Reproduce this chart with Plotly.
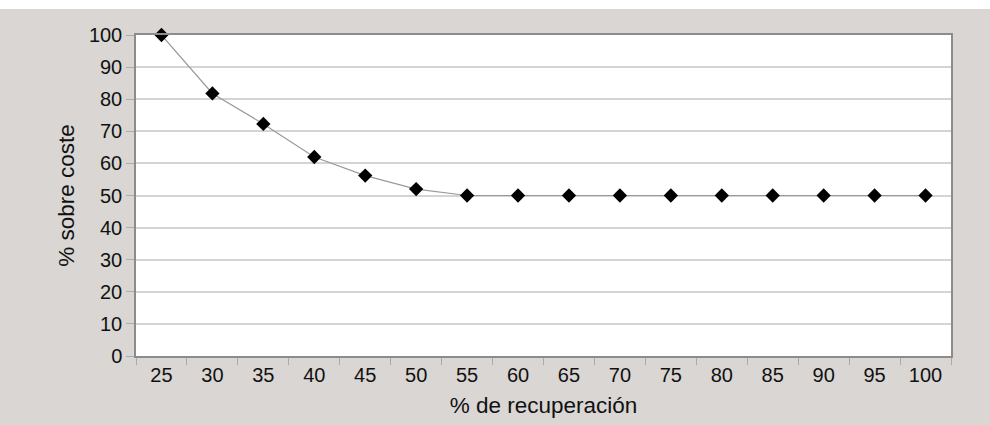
import plotly.graph_objects as go

recuperacion = ["25", "30", "35", "40", "45", "50", "55", "60", "65", "70", "75", "80", "85", "90", "95", "100"]
sobre_coste = [100, 81.8, 72.3, 62, 56.2, 52, 50, 50, 50, 50, 50, 50, 50, 50, 50, 50]
y_ticks = [0, 10, 20, 30, 40, 50, 60, 70, 80, 90, 100]

FONT = "Liberation Sans, Arial, sans-serif"
GRAY_BG = "#d9d6d3"
AXIS = "#8c8c8c"

fig = go.Figure()
fig.add_trace(go.Scatter(
    x=recuperacion, y=sobre_coste, mode="lines+markers",
    line=dict(color="#9a9a9a", width=1.2),
    marker=dict(symbol="diamond", size=11, color="black"),
    cliponaxis=False, showlegend=False,
))

W, H = 990, 425
ml, mr, mt, mb = 136, 39, 35, 69
pw, ph = W - ml - mr, H - mt - mb

def px(x):
    return (x - ml) / pw

def py(y):
    return (H - mb - y) / ph

shapes = [
    dict(type="rect", xref="paper", yref="paper", layer="below",
         x0=px(-5), x1=px(W + 5), y0=py(H + 5), y1=py(9),
         fillcolor=GRAY_BG, line=dict(width=0)),
    dict(type="rect", xref="paper", yref="paper", layer="below",
         x0=0, x1=1, y0=0, y1=1, fillcolor="white", line=dict(width=0)),
]

fig.update_layout(
    width=W, height=H,
    margin=dict(l=ml, r=mr, t=mt, b=mb),
    paper_bgcolor="white", plot_bgcolor="white",
    font=dict(family=FONT, size=20, color="#111111"),
    shapes=shapes,
    xaxis=dict(
        type="category", tickson="boundaries", range=[-0.5, 15.5],
        showgrid=False, ticks="outside", ticklen=7, tickwidth=1.2, tickcolor="#aaaaaa",
        showline=True, linecolor=AXIS, linewidth=1.5, mirror=True,
        title=dict(text="% de recuperación", standoff=12, font=dict(size=22.5)),
        tickfont=dict(size=20),
    ),
    yaxis=dict(
        range=[0, 100], tickvals=y_ticks, ticktext=[str(v) for v in y_ticks],
        showgrid=True, gridcolor="#d4d4d4", gridwidth=1.5,
        ticks="outside", ticklen=8, tickwidth=1.2, tickcolor="#aaaaaa",
        showline=True, linecolor=AXIS, linewidth=1.5, mirror=True,
        zeroline=False,
        title=dict(text="% sobre coste", standoff=8, font=dict(size=22.5)),
        tickfont=dict(size=20),
    ),
)

fig.write_html("out.html")
